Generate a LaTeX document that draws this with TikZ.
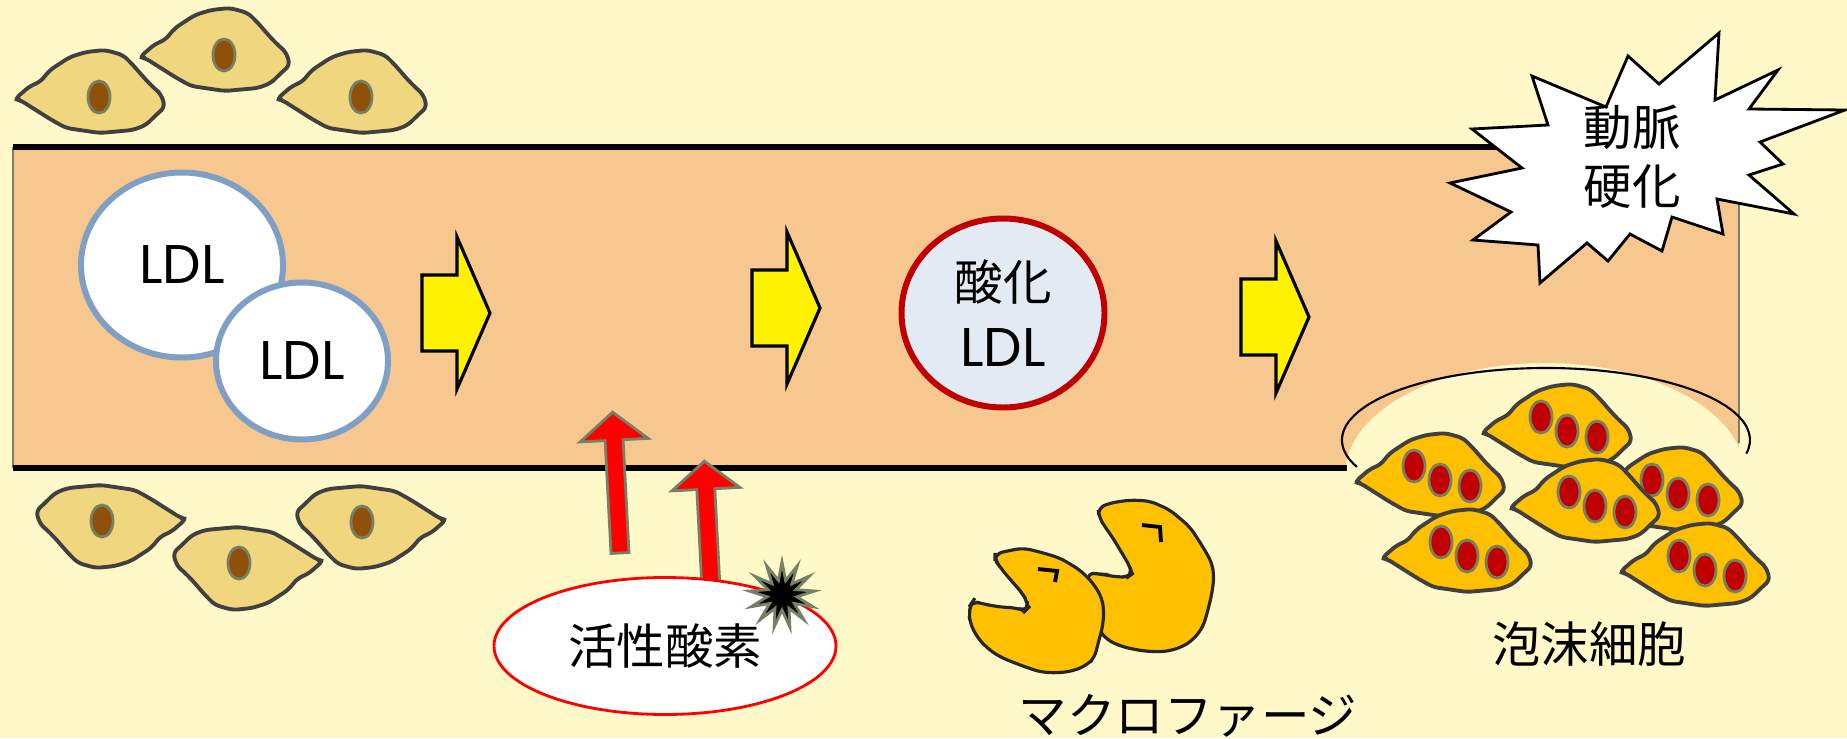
\documentclass[tikz,border=0pt]{standalone}
\usepackage{fontspec}
\setmainfont{Poppins}
\newfontfamily\jp{Noto Sans CJK JP}
\usepackage{tikz}
\usetikzlibrary{shapes.geometric}

\definecolor{bgyellow}{HTML}{FFF9C9}
\definecolor{vessel}{HTML}{F6C78F}
\definecolor{cellfill}{HTML}{F0D67E}
\definecolor{nucbrown}{HTML}{8F5009}
\definecolor{rimgrey}{HTML}{768064}
\definecolor{darkline}{HTML}{404040}
\definecolor{foamfill}{HTML}{FFC000}
\definecolor{lipidred}{HTML}{C00000}
\definecolor{ldlblue}{HTML}{7F9FC4}
\definecolor{oxfill}{HTML}{E2EAF4}

% outline of one cell, pointed end on the left
\newcommand\cellpath{(-0.84,-0.02) -- (-0.69,0.11) -- (-0.59,0.15) -- (-0.49,0.27)
  -- (-0.29,0.40) -- (-0.13,0.45) -- (0.06,0.47) -- (0.24,0.42) -- (0.34,0.32)
  -- (0.47,0.17) -- (0.56,0.08) -- (0.62,0.03) -- (0.66,-0.10) -- (0.57,-0.18)
  -- (0.47,-0.28) -- (0.34,-0.33) -- (0.01,-0.36) -- (-0.33,-0.31) -- (-0.49,-0.22)
  -- (-0.79,-0.03) -- cycle}

\tikzset{
  cellline/.style={draw=darkline, line width=1.1pt, rounded corners=1.5pt},
  nucleus/.style={draw=rimgrey, line width=0.8pt},
  ldl/.style={ellipse, draw=ldlblue, line width=1.7pt, fill=white, inner sep=0pt,
    font=\fontsize{15.5}{18}\selectfont},
  jptext/.style={font=\jp\fontsize{13.8}{16.7}\selectfont},
  flowarrow/.style={draw=black, line width=0.9pt, fill=yellow},
  rosarrow/.style={draw=rimgrey, line width=0.8pt, fill=red},
  macro/.style={draw=black!85, line width=0.9pt, fill=foamfill, rounded corners=2pt},
  eye/.style={line width=1.1pt},
  pics/endocell/.style={code={
    \draw[cellline, fill=cellfill] \cellpath;
    \draw[nucleus, fill=nucbrown] (0,0) ellipse [x radius=0.11, y radius=0.16];
  }},
  pics/foamcell/.style={code={
    \draw[cellline, fill=foamfill] \cellpath;
    \foreach \nx/\ny in {-0.25/0.14, 0.01/0.00, 0.31/-0.06}
      \draw[nucleus, fill=lipidred] (\nx,\ny) ellipse [x radius=0.11, y radius=0.16];
  }},
}

\begin{document}
\begin{tikzpicture}
    \useasboundingbox (0,0) rectangle (18.47,7.38);
    \fill[bgyellow] (0,0) rectangle (18.47,7.38);

    % vessel wall
    \fill[vessel] (0.13,2.70) rectangle (17.39,5.91);
    \fill[bgyellow] (15.45,2.63) ellipse [x radius=2.00, y radius=1.12];
    \draw[rimgrey, line width=0.6pt] (0.13,2.70) -- (0.13,5.91);
    \draw[rimgrey, line width=0.6pt] (17.39,2.95) -- (17.39,5.91);
    \draw[line width=1.6pt] (0.13,5.91) -- (17.39,5.91);
    \draw[line width=1.6pt] (0.13,2.70) -- (13.47,2.70);
    \draw[line width=0.6pt] ([shift={(202:2.04 and 0.72)}]15.46,2.98)
        arc[start angle=202, end angle=-11, x radius=2.04, y radius=0.72];

    % cells above and below the vessel
    \foreach \x/\y in {0.99/6.41, 2.24/6.83, 3.61/6.41}
        \pic at (\x,\y) {endocell};
    \foreach \x/\y in {1.02/2.17, 2.39/1.75, 3.62/2.16}
        \pic[rotate=180] at (\x,\y) {endocell};

    % LDL particles
    \node[ldl, minimum width=2.02cm, minimum height=1.85cm] (ldlA) at (1.82,4.73) {LDL};
    \node[ldl, minimum width=1.72cm, minimum height=1.57cm] (ldlB) at (3.02,3.77) {LDL};

    % yellow block arrows
    \foreach \x/\y in {4.22/4.25, 7.52/4.30, 12.41/4.21} {
        \draw[flowarrow] (\x,\y+0.38) -- ++(0.35,0) -- ++(0,0.38) -- (\x+0.68,\y)
            -- (\x+0.35,\y-0.76) -- ++(0,0.38) -- (\x,\y-0.38) -- cycle;
    }

    % oxidised LDL
    \node[ldl, draw=lipidred, fill=oxfill, align=center, minimum width=2.03cm,
        minimum height=1.89cm, font=\fontsize{15.5}{18.7}\selectfont]
        (oxldl) at (10.03,4.25) {{\jp\fontsize{13.8}{18.7}\selectfont 酸化}\\LDL};

    % reactive oxygen pushing into the wall
    \foreach \x/\y/\len in {6.20/1.85/1.41, 7.11/1.50/1.27} {
        \draw[rosarrow, rotate around={3:(\x,\y)}] (\x-0.09,\y) -- ++(0,\len-0.28)
            -- ++(-0.25,0) -- (\x,\y+\len) -- (\x+0.34,\y+\len-0.28) -- ++(-0.25,0)
            -- (\x+0.09,\y) -- cycle;
    }
    \node[jptext, ellipse, draw=red, line width=0.8pt, fill=white, inner sep=0pt,
        minimum width=3.42cm, minimum height=1.37cm] (ros) at (6.65,0.92) {活性酸素};
    \node[star, star points=13, star point ratio=2.2, minimum size=0.66cm, inner sep=0pt,
        fill=black, draw=rimgrey, line width=0.8pt] (spark) at (7.82,1.43) {};

    % macrophages
    \draw[macro] (10.98,2.30) -- (11.10,2.35) -- (11.30,2.38) -- (11.50,2.37) -- (11.70,2.28)
        -- (11.90,2.11) -- (12.03,1.91) -- (12.12,1.75) -- (12.14,1.61) -- (12.12,1.45)
        -- (12.08,1.28) -- (12.03,1.11) -- (11.93,0.98) -- (11.80,0.90) -- (11.63,0.86)
        -- (11.43,0.87) -- (11.23,0.91) -- (11.07,0.98) -- (10.97,1.11) -- (10.93,1.31)
        -- (10.90,1.51) -- (10.87,1.65) -- (11.00,1.64) -- (11.17,1.61) -- (11.28,1.61)
        -- (11.32,1.64) -- (11.30,1.71) -- (11.25,1.80) -- (11.20,1.88) -- (11.13,2.00)
        -- (11.05,2.11) -- (10.99,2.21) -- cycle;
    \draw[eye] (11.42,2.13) -- (11.60,2.11) -- (11.61,1.96);
    \draw[macro] (9.95,1.84) -- (10.07,1.87) -- (10.23,1.90) -- (10.40,1.86) -- (10.60,1.80)
        -- (10.80,1.68) -- (10.93,1.55) -- (11.02,1.40) -- (11.04,1.25) -- (11.02,1.08)
        -- (10.98,0.95) -- (10.95,0.81) -- (10.87,0.73) -- (10.73,0.67) -- (10.57,0.65)
        -- (10.40,0.66) -- (10.20,0.73) -- (10.00,0.81) -- (9.87,0.90) -- (9.77,1.01)
        -- (9.70,1.15) -- (9.69,1.25) -- (9.71,1.34) -- (9.73,1.37) -- (9.83,1.34)
        -- (10.00,1.31) -- (10.17,1.30) -- (10.25,1.27) -- (10.28,1.30) -- (10.27,1.37)
        -- (10.22,1.45) -- (10.17,1.51) -- (10.08,1.61) -- (10.00,1.71) -- (9.95,1.78) -- cycle;
    \draw[eye] (10.38,1.69) -- (10.57,1.67) -- (10.55,1.56);
    \node[jptext] (macrolabel) at (11.88,0.22) {マクロファージ};

    % foam cells
    \foreach \x/\y in {15.66/3.07, 14.39/2.58, 16.77/2.44, 15.94/2.32, 14.66/1.82, 17.04/1.68}
        \pic at (\x,\y) {foamcell};
    \node[jptext] (foamlabel) at (15.89,0.94) {泡沫細胞};

    % atherosclerosis burst
    \filldraw[fill=white, draw=black, line width=0.8pt] (17.19,7.05) -- (17.15,6.38)
        -- (17.78,6.68) -- (17.49,6.29) -- (18.45,6.28) -- (17.60,5.96) -- (17.83,5.74)
        -- (17.49,5.63) -- (17.94,5.24) -- (17.17,5.39) -- (17.23,5.04) -- (16.72,5.21)
        -- (16.62,4.87) -- (16.30,5.04) -- (16.08,4.77) -- (15.87,4.95) -- (15.40,4.55)
        -- (15.38,4.93) -- (14.73,4.98) -- (15.11,5.26) -- (14.50,5.55) -- (15.22,5.70)
        -- (14.72,6.09) -- (15.48,6.13) -- (15.32,6.62) -- (16.06,6.31) -- (16.28,6.82)
        -- (16.59,6.54) -- cycle;
    \node[jptext, align=center] (sclerosis) at (16.32,5.81) {動脈\\硬化};
\end{tikzpicture}
\end{document}
